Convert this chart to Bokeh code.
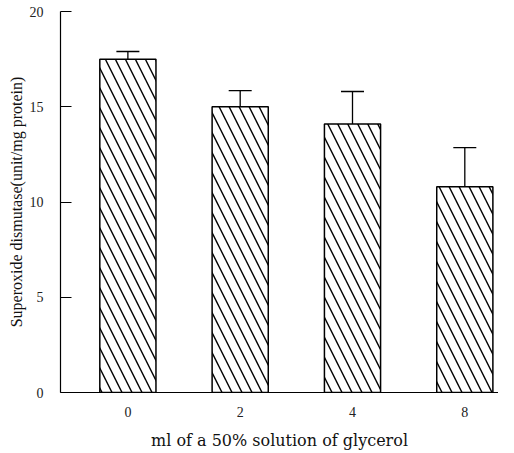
from bokeh.plotting import figure
from bokeh.models import Range1d, FixedTicker, Whisker, TeeHead, ColumnDataSource
from bokeh.embed import file_html
from bokeh.resources import INLINE

categories = ["0", "2", "4", "8"]
means = [17.5, 15.0, 14.1, 10.8]
errors = [0.4, 0.85, 1.7, 2.05]
y_ticks = [0, 5, 10, 15, 20]

xs = list(range(len(categories)))
src = ColumnDataSource(dict(
    x=xs, top=means,
    upper=[m + e for m, e in zip(means, errors)],
))

FONT = "Liberation Serif"

p = figure(width=498, height=452, output_backend="svg", toolbar_location=None,
           x_range=Range1d(-0.6, 3.3), y_range=Range1d(0, 20),
           min_border_left=60, min_border_right=0, min_border_top=11, min_border_bottom=50)
p.outline_line_color = None
p.grid.visible = False
p.background_fill_color = "white"

p.vbar(x="x", top="top", bottom=0, width=0.5, source=src,
       fill_color="white", line_color="black", line_width=1.5,
       hatch_pattern="\\", hatch_scale=20, hatch_weight=1.4, hatch_color="black")

w = Whisker(base="x", upper="upper", lower="top", source=src,
            line_color="black", line_width=1.3,
            upper_head=TeeHead(size=23, line_color="black", line_width=1.3),
            lower_head=None)
p.add_layout(w)

# y axis
p.yaxis.ticker = FixedTicker(ticks=y_ticks)
p.yaxis.major_tick_in = 11
p.yaxis.major_tick_out = 0
p.yaxis.minor_tick_line_color = None
p.yaxis.axis_line_width = 1.2
p.yaxis.major_tick_line_width = 1.2
p.yaxis.major_label_standoff = 17
p.yaxis.axis_label = "Superoxide dismutase(unit/mg protein)"
p.yaxis.axis_label_standoff = 2

# x axis
p.xaxis.ticker = FixedTicker(ticks=xs)
p.xaxis.major_label_overrides = {i: c for i, c in zip(xs, categories)}
p.xaxis.major_tick_line_color = None
p.xaxis.minor_tick_line_color = None
p.xaxis.axis_line_width = 1.2
p.xaxis.major_label_standoff = 8
p.xaxis.axis_label = "ml of a 50% solution of glycerol"
p.xaxis.axis_label_standoff = 11

for ax in (p.xaxis, p.yaxis):
    ax.major_label_text_font = FONT
    ax.major_label_text_font_size = "14px"
    ax.major_label_text_color = "#222222"
    ax.axis_label_text_font_style = "normal"
    ax.axis_label_text_color = "#111111"
    ax.axis_line_color = "black"

p.yaxis.axis_label_text_font = FONT
p.yaxis.axis_label_text_font_size = "16px"
p.xaxis.axis_label_text_font = "DejaVu Serif"
p.xaxis.axis_label_text_font_size = "16px"

open("out.html", "w").write(file_html(p, INLINE))
